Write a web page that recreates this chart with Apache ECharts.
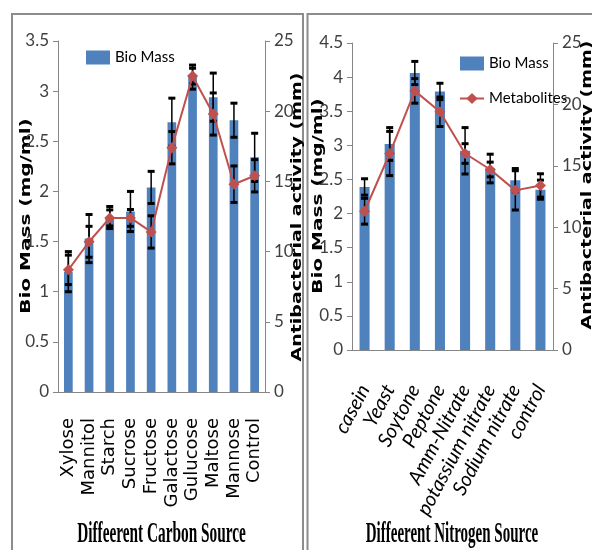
<!DOCTYPE html>
<html><head><meta charset="utf-8">
<script src="https://cdn.jsdelivr.net/npm/echarts@6/dist/echarts.min.js"></script>
<style>html,body{margin:0;padding:0;background:#fff}#c{width:592px;height:550px}</style>
</head><body><div id="c"></div>
<script>
// ---- data ----
const carbonCats = ['Xylose','Mannitol','Starch','Sucrose','Fructose','Galactose','Gulucose','Maltose','Mannose','Control'];
const carbonBio = [1.20, 1.53, 1.74, 1.80, 2.04, 2.69, 3.14, 2.94, 2.71, 2.34];
const carbonBioErr = [0.20, 0.24, 0.11, 0.20, 0.16, 0.24, 0.12, 0.24, 0.17, 0.24];
const carbonMet = [8.7, 10.7, 12.4, 12.4, 11.4, 17.4, 22.5, 19.8, 14.8, 15.4];
const carbonMetErr = [1.05, 1.1, 0.57, 0.6, 1.15, 1.15, 0.56, 1.5, 1.3, 1.15];

const nitrogenCats = ['casein','Yeast','Soytone','Peptone','Amm-Nitrate','potassium nitrate','Sodium nitrate','control'];
const nitrogenBio = [2.39, 3.02, 4.06, 3.79, 2.92, 2.66, 2.49, 2.35];
const nitrogenBioErr = [0.12, 0.24, 0.17, 0.12, 0.34, 0.21, 0.17, 0.14];
const nitrogenMet = [11.3, 16.0, 21.1, 19.4, 16.0, 14.7, 13.0, 13.4];
const nitrogenMetErr = [1.05, 1.8, 1.0, 1.2, 0.8, 0.6, 1.6, 0.95];

const leftBioTicks = {min:0, max:3.5, interval:0.5};
const rightBioTicks = {min:0, max:4.5, interval:0.5};
const actTicks = {min:0, max:25, interval:5};

// ---- chart ----
const chart = echarts.init(document.getElementById('c'));
const NUM = '"Liberation Sans Narrow", Lato, "Noto Sans", sans-serif';
const AX = '#868686';
const BLUE = '#4F81BD', RED = '#C0504D';

function errSeries(name, xi, yi, vals, errs, z) {
  return {
    type:'custom', name, xAxisIndex:xi, yAxisIndex:yi, z, silent:true,
    data: vals.map((v,i)=>[i, v, errs[i]]),
    encode:{x:0, y:1},
    renderItem(params, api){
      const i = api.value(0), v = api.value(1), e = api.value(2);
      const hi = api.coord([i, v+e]), lo = api.coord([i, v-e]);
      const w = 3.5;
      return {type:'group', children:[
        {type:'line', shape:{x1:hi[0], y1:hi[1], x2:lo[0], y2:lo[1]}, style:{stroke:'#000', lineWidth:1.5}},
        {type:'rect', shape:{x:hi[0]-w, y:hi[1]-1.5, width:2*w, height:3}, style:{fill:'#000'}},
        {type:'rect', shape:{x:lo[0]-w, y:lo[1]-1.5, width:2*w, height:3}, style:{fill:'#000'}}
      ]};
    }
  };
}

function valAxis(grid, pos, t) {
  return {
    gridIndex:grid, type:'value', position:pos, min:t.min, max:t.max, interval:t.interval,
    splitLine:{show:false},
    axisLine:{show:true, lineStyle:{color:AX, width:1}},
    axisTick:{show:true, length:5, lineStyle:{color:AX}},
    axisLabel:{fontFamily:NUM, fontSize:17, color:'#404040', margin:9}
  };
}

const option = {
  animation:false,
  backgroundColor:'#fff',
  grid:[
    {left:58, top:41, width:207, height:351},
    {left:352, top:43, width:201, height:307}
  ],
  xAxis:[
    {gridIndex:0, type:'category', data:carbonCats,
     axisLine:{lineStyle:{color:AX}}, axisTick:{length:6, lineStyle:{color:AX}},
     axisLabel:{interval:0, rotate:90, margin:26, fontFamily:'"DejaVu Sans", Verdana, sans-serif', fontSize:18, color:'#000'}},
    {gridIndex:1, type:'category', data:nitrogenCats,
     axisLine:{lineStyle:{color:AX}}, axisTick:{length:6, lineStyle:{color:AX}},
     axisLabel:{interval:0, rotate:62, margin:36, fontFamily:'Lato, "Liberation Sans", sans-serif', fontStyle:'italic', fontSize:20, color:'#000'}}
  ],
  yAxis:[
    valAxis(0,'left',leftBioTicks),
    valAxis(0,'right',actTicks),
    valAxis(1,'left',rightBioTicks),
    valAxis(1,'right',actTicks)
  ],
  legend:[
    {data:[{name:'Bio Mass', icon:'rect'}], left:86, top:50, padding:0, itemWidth:24, itemHeight:14,
     textStyle:{fontFamily:NUM, fontSize:15, color:'#000'}},
    {data:[{name:'Bio Mass', icon:'rect'}, 'Metabolites'], orient:'vertical', left:459, top:56, padding:0,
     itemWidth:24, itemHeight:14, itemGap:20, textStyle:{fontFamily:NUM, fontSize:15, color:'#000'}}
  ],
  series:[
    {type:'bar', name:'Bio Mass', xAxisIndex:0, yAxisIndex:0, data:carbonBio, barWidth:'42%', itemStyle:{color:BLUE}, z:2},
    errSeries('errBioC', 0, 0, carbonBio, carbonBioErr, 3),
    errSeries('errMetC', 0, 1, carbonMet, carbonMetErr, 3),
    {type:'line', name:'Metabolites', xAxisIndex:0, yAxisIndex:1, data:carbonMet, symbol:'diamond', symbolSize:11,
     lineStyle:{color:RED, width:2}, itemStyle:{color:RED}, z:5},
    {type:'bar', name:'Bio Mass', xAxisIndex:1, yAxisIndex:2, data:nitrogenBio, barWidth:'40%', itemStyle:{color:BLUE}, z:2},
    errSeries('errBioN', 1, 2, nitrogenBio, nitrogenBioErr, 3),
    errSeries('errMetN', 1, 3, nitrogenMet, nitrogenMetErr, 3),
    {type:'line', name:'Metabolites', xAxisIndex:1, yAxisIndex:3, data:nitrogenMet, symbol:'diamond', symbolSize:11,
     lineStyle:{color:RED, width:2}, itemStyle:{color:RED}, z:5}
  ],
  graphic:[
    {type:'polyline', shape:{points:[[12,560],[12,14],[303,14],[303,560]]}, style:{stroke:'#8c8c8c', lineWidth:2, fill:'none'}},
    {type:'polyline', shape:{points:[[307.5,560],[307.5,14],[600,14]]}, style:{stroke:'#8c8c8c', lineWidth:2, fill:'none'}},
    {type:'text', x:26, y:216, rotation:Math.PI/2, scaleY:0.72,
     style:{text:'Bio Mass (mg/ml)', font:'bold 20px "DejaVu Sans", Verdana, sans-serif', fill:'#000', textAlign:'center', textVerticalAlign:'middle'}},
    {type:'text', x:297, y:217, rotation:Math.PI/2, scaleY:0.72,
     style:{text:'Antibacterial activity (mm)', font:'bold 19px "DejaVu Sans", Verdana, sans-serif', fill:'#000', textAlign:'center', textVerticalAlign:'middle'}},
    {type:'text', x:318, y:196, rotation:Math.PI/2, scaleY:0.72,
     style:{text:'Bio Mass (mg/ml)', font:'bold 20px "DejaVu Sans", Verdana, sans-serif', fill:'#000', textAlign:'center', textVerticalAlign:'middle'}},
    {type:'text', x:587, y:185, rotation:Math.PI/2, scaleY:0.72,
     style:{text:'Antibacterial activity (mm)', font:'bold 19px "DejaVu Sans", Verdana, sans-serif', fill:'#000', textAlign:'center', textVerticalAlign:'middle'}},
    {type:'text', x:161.5, y:534, scaleX:0.51,
     style:{text:'Diffeerent Carbon Source', font:'bold 30px "Liberation Serif", "Times New Roman", serif', fill:'#000', textAlign:'center', textVerticalAlign:'middle'}},
    {type:'text', x:452, y:534, scaleX:0.5,
     style:{text:'Diffeerent Nitrogen Source', font:'bold 30px "Liberation Serif", "Times New Roman", serif', fill:'#000', textAlign:'center', textVerticalAlign:'middle'}}
  ]
};
chart.setOption(option);
</script>
</body></html>
